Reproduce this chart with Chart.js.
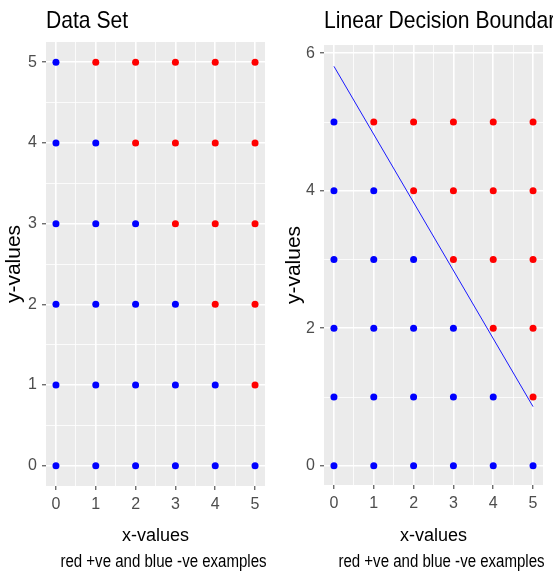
<!DOCTYPE html>
<html lang="en">
<head>
    <meta charset="UTF-8">
    <title>Data Set / Linear Decision Boundary</title>
    <script src="https://cdn.jsdelivr.net/npm/chart.js"></script>
    <style>
        body { margin: 0; background: #fff; }
        .panel { position: absolute; top: 0; }
        #leftPanel { left: 0; }
        #rightPanel { left: 276px; }
    </style>
</head>
<body>
    <div class="panel" id="leftPanel"><canvas id="dataSetChart" width="276" height="572"></canvas></div>
    <div class="panel" id="rightPanel"><canvas id="boundaryChart" width="277" height="572"></canvas></div>

    <script>
        // red = positive examples, blue = negative examples, as [x, y]
        const positivePoints = [
            [1, 5], [2, 5], [3, 5], [4, 5], [5, 5],
            [2, 4], [3, 4], [4, 4], [5, 4],
            [3, 3], [4, 3], [5, 3],
            [4, 2], [5, 2],
            [5, 1]
        ];
        const negativePoints = [
            [0, 5],
            [0, 4], [1, 4],
            [0, 3], [1, 3], [2, 3],
            [0, 2], [1, 2], [2, 2], [3, 2],
            [0, 1], [1, 1], [2, 1], [3, 1], [4, 1],
            [0, 0], [1, 0], [2, 0], [3, 0], [4, 0], [5, 0]
        ];

        // decision boundary end points
        const boundaryX = [0, 5];
        const boundaryY = [5.81, 0.86];

        // grid / tick positions (labels only on the major ones)
        const xGrid = [0, 0.5, 1, 1.5, 2, 2.5, 3, 3.5, 4, 4.5, 5];
        const xLabels = [0, 1, 2, 3, 4, 5];
        const yGridLeft = [0, 0.5, 1, 1.5, 2, 2.5, 3, 3.5, 4, 4.5, 5];
        const yLabelsLeft = [0, 1, 2, 3, 4, 5];
        const yGridRight = [0, 1, 2, 3, 4, 5, 6];
        const yLabelsRight = [0, 2, 4, 6];

        const FONT = "'Liberation Sans', Arial, sans-serif";
        const toXY = pts => pts.map(p => ({ x: p[0], y: p[1] }));

        const panelBg = {
            id: 'panelBg',
            beforeDraw(chart) {
                const { ctx, chartArea: a } = chart;
                ctx.save();
                ctx.fillStyle = '#ebebeb';
                ctx.fillRect(a.left, a.top, a.right - a.left, a.bottom - a.top);
                ctx.restore();
            }
        };

        // panel title and caption, drawn a bit narrow like the original
        function narrowText(ctx, text, x, y, align, size, squeeze) {
            ctx.save();
            ctx.font = size + 'px ' + FONT;
            ctx.textAlign = align;
            ctx.textBaseline = 'alphabetic';
            ctx.fillStyle = '#000';
            ctx.translate(x, y);
            ctx.scale(squeeze, 1);
            ctx.fillText(text, 0, 0);
            ctx.restore();
        }

        const panelText = {
            id: 'panelText',
            afterDraw(chart, args, opts) {
                const a = chart.chartArea;
                narrowText(chart.ctx, opts.title, a.left, 28, 'left', 24, 0.88);
                narrowText(chart.ctx, opts.caption, (a.left + a.right) / 2 + 8, 567, 'center', 17.5, 0.86);
            }
        };

        function axis(gridVals, labelVals, min, max, extra) {
            return Object.assign({
                type: 'linear',
                min: min,
                max: max,
                afterBuildTicks: s => { s.ticks = gridVals.map(v => ({ value: v })); },
                border: { display: false },
                grid: {
                    color: '#ffffff',
                    lineWidth: c => labelVals.includes(c.tick.value) ? 1.6 : 0.8,
                    tickColor: c => labelVals.includes(c.tick.value) ? '#333333' : 'rgba(0,0,0,0)',
                    tickWidth: 1,
                    tickLength: 4
                },
                ticks: {
                    autoSkip: false,
                    maxRotation: 0,
                    padding: 5,
                    color: '#4d4d4d',
                    font: { family: FONT, size: 16 },
                    callback: v => labelVals.includes(v) ? String(v) : ''
                }
            }, extra);
        }

        function makeChart(id, cfg) {
            const datasets = [
                {
                    label: 'positive',
                    data: toXY(positivePoints),
                    backgroundColor: '#ff0000',
                    borderWidth: 0,
                    pointRadius: 3.5,
                    order: 1
                },
                {
                    label: 'negative',
                    data: toXY(negativePoints),
                    backgroundColor: '#0000ff',
                    borderWidth: 0,
                    pointRadius: 3.5,
                    order: 1
                }
            ];
            if (cfg.boundary) {
                datasets.push({
                    label: 'boundary',
                    data: boundaryX.map((x, i) => ({ x: x, y: boundaryY[i] })),
                    showLine: true,
                    borderColor: '#1a1aff',
                    borderWidth: 1,
                    pointRadius: 0,
                    order: 0
                });
            }

            new Chart(document.getElementById(id), {
                type: 'scatter',
                data: { datasets: datasets },
                plugins: [panelBg, panelText],
                options: {
                    responsive: false,
                    animation: false,
                    layout: { padding: cfg.padding },
                    plugins: {
                        legend: { display: false },
                        tooltip: { enabled: false },
                        panelText: { title: cfg.title, caption: 'red +ve and blue -ve examples' }
                    },
                    scales: {
                        x: axis(xGrid, xLabels, -0.25, 5.25, {
                            position: 'bottom',
                            afterFit: s => { s.height = cfg.xHeight; },
                            title: {
                                display: true,
                                text: 'x-values',
                                color: '#000',
                                font: { family: FONT, size: 18 },
                                padding: { top: 0, bottom: 25 }
                            }
                        }),
                        y: axis(cfg.yGrid, cfg.yLabels, cfg.yMin, cfg.yMax, {
                            position: 'left',
                            afterFit: s => { s.width = cfg.yWidth; },
                            title: {
                                display: true,
                                text: 'y-values',
                                color: '#000',
                                font: { family: FONT, size: 21 },
                                padding: { top: cfg.yTitlePad, bottom: 0 }
                            }
                        })
                    }
                }
            });
        }

        makeChart('dataSetChart', {
            title: 'Data Set',
            boundary: false,
            padding: { top: 42, right: 11, bottom: 0, left: 0 },
            xHeight: 86,
            yWidth: 46,
            yTitlePad: 2,
            yGrid: yGridLeft,
            yLabels: yLabelsLeft,
            yMin: -0.25,
            yMax: 5.25
        });

        makeChart('boundaryChart', {
            title: 'Linear Decision Boundary',
            boundary: true,
            padding: { top: 45, right: 10, bottom: 0, left: 0 },
            xHeight: 87,
            yWidth: 48,
            yTitlePad: 6,
            yGrid: yGridRight,
            yLabels: yLabelsRight,
            yMin: -0.28,
            yMax: 6.12
        });
    </script>
</body>
</html>
